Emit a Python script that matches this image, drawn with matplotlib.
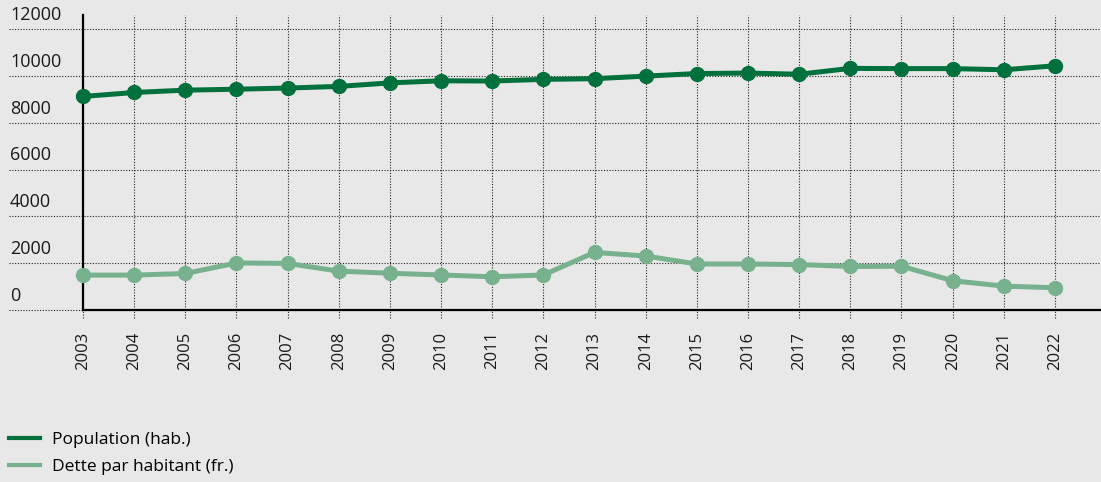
import matplotlib
matplotlib.use('Agg')
import numpy as np
import matplotlib.pyplot as plt
from matplotlib.lines import Line2D
from matplotlib.transforms import blended_transform_factory

years = [str(y) for y in range(2003, 2023)]
population = [9120, 9290, 9390, 9430, 9480, 9550, 9700, 9790, 9780, 9850,
              9880, 9990, 10100, 10120, 10070, 10320, 10310, 10310, 10260, 10430]
dette = [1490, 1490, 1560, 2010, 1990, 1660, 1570, 1495, 1420, 1495,
         2460, 2305, 1965, 1965, 1940, 1860, 1870, 1250, 1020, 950]
yticks = [0, 2000, 4000, 6000, 8000, 10000, 12000]

dark = '#00703c'
light = '#78b18e'
bg = '#e8e8e8'

plt.rcParams['font.family'] = ['Open Sans', 'DejaVu Sans']

fig = plt.figure(figsize=(11.01, 4.82), dpi=100, facecolor=bg)
ax = fig.add_axes([83/1101, 1 - 310/482, 1 - 83/1101, 295/482])
ax.set_facecolor(bg)

x = np.arange(len(years))
ax.plot(x, population, color=dark, lw=3.6, marker='o', ms=10, zorder=5, clip_on=False)
ax.plot(x, dette, color=light, lw=3.6, marker='o', ms=10, zorder=4, clip_on=False)

ax.set_xlim(0, 19.9)
ax.set_ylim(0, 12600)

for s in ['top', 'right']:
    ax.spines[s].set_visible(False)
for s in ['left', 'bottom']:
    ax.spines[s].set_linewidth(1.6)
    ax.spines[s].set_color('black')
    ax.spines[s].set_zorder(3)

# dotted grid, extended beyond the axes
vt = blended_transform_factory(ax.transData, ax.transAxes)
for xi in x:
    ax.plot([xi, xi], [-8/295, 1], transform=vt, color='#222222', lw=0.8,
            ls=(0, (1, 1.5)), clip_on=False, zorder=1)
ht = blended_transform_factory(fig.transFigure, ax.transData)
for v in yticks:
    ax.plot([9/1101, 1], [v, v], transform=ht, color='#222222', lw=0.8,
            ls=(0, (1, 1.5)), clip_on=False, zorder=1)
    ax.annotate(str(v), xy=(10/1101, v), xycoords=ht, xytext=(0, 6.5),
                textcoords='offset points', ha='left', va='baseline',
                fontsize=13, color='#1a1a1a')

ax.set_yticks([])
ax.set_xticks(x)
ax.set_xticklabels(years, rotation=90, fontsize=12, color='#1a1a1a')
ax.tick_params(axis='x', length=0, pad=15.5)

handles = [Line2D([], [], color=dark, lw=3),
           Line2D([], [], color=light, lw=3)]
fig.legend(handles, ['Population (hab.)', 'Dette par habitant (fr.)'],
           loc='upper left', bbox_to_anchor=(9/1101, 1 - 432/482),
           frameon=False, fontsize=12.5, handlelength=1.8, handletextpad=0.65,
           borderpad=0, borderaxespad=0, labelspacing=0.62)

fig.savefig('out.png', dpi=100, facecolor=bg)
